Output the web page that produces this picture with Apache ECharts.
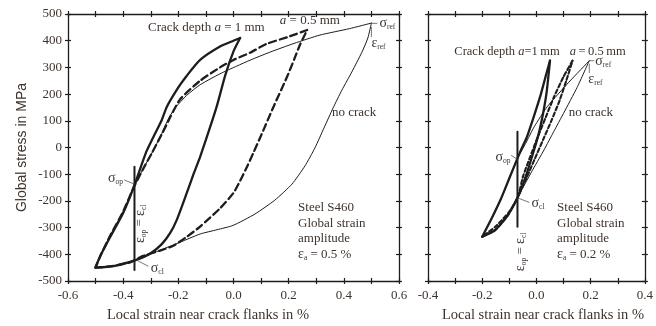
<!DOCTYPE html>
<html>
<head>
<meta charset="utf-8">
<script src="https://cdn.jsdelivr.net/npm/echarts@6/dist/echarts.min.js"></script>
<style>
html, body { margin: 0; padding: 0; background: #fff; }
#chart { width: 656px; height: 326px; }
</style>
</head>
<body>
<div id="chart"></div>
<script>
// ---- Global strain amplitude 0.5 % (left panel): local stress-strain loops ----
const leftNoCrackUp = [
  [-0.5, -450], [-0.44, -444], [-0.375, -430], [-0.327, -408], [-0.266, -385],
  [-0.194, -355], [-0.121, -324], [-0.06, -308], [-0.002, -292], [0.078, -249],
  [0.15, -197], [0.212, -137], [0.259, -69], [0.295, -2], [0.328, 73],
  [0.361, 148], [0.393, 215], [0.429, 283], [0.466, 358], [0.487, 410], [0.5, 466]
];
const leftNoCrackDown = [
  [0.5, 466], [0.42, 445], [0.313, 421], [0.22, 390], [0.132, 357], [0.06, 327],
  [0.012, 305], [-0.049, 276], [-0.121, 235], [-0.17, 195], [-0.21, 150],
  [-0.235, 110], [-0.26, 52], [-0.296, -21], [-0.33, -85], [-0.363, -152],
  [-0.4, -240], [-0.447, -330], [-0.48, -400], [-0.5, -450]
];
const leftHalfMmUp = [
  [-0.5, -450], [-0.44, -444], [-0.375, -430], [-0.327, -406], [-0.266, -386],
  [-0.218, -368], [-0.17, -335], [-0.121, -296], [-0.049, -228], [0, -170],
  [0.024, -125], [0.05, -70], [0.072, -20], [0.1, 45], [0.144, 150],
  [0.193, 262], [0.22, 330], [0.241, 385], [0.267, 440]
];
const leftHalfMmDown = [
  [0.267, 440], [0.2, 415], [0.12, 388], [0.06, 355], [0, 328], [-0.049, 300],
  [-0.121, 250], [-0.194, 180], [-0.23, 112], [-0.26, 50], [-0.296, -21],
  [-0.33, -85], [-0.363, -152], [-0.4, -240], [-0.447, -330], [-0.48, -400],
  [-0.5, -450]
];
const leftOneMmUp = [
  [-0.5, -450], [-0.435, -444], [-0.375, -428], [-0.34, -416], [-0.3, -396],
  [-0.26, -362], [-0.23, -321], [-0.206, -272], [-0.17, -172], [-0.145, -100],
  [-0.121, -35], [-0.09, 60], [-0.061, 153], [-0.03, 270], [0, 360], [0.024, 410]
];
const leftOneMmDown = [
  [0.024, 410], [0, 400], [-0.049, 378], [-0.121, 328], [-0.17, 268], [-0.2, 225],
  [-0.242, 152], [-0.26, 103], [-0.29, 40], [-0.318, -21], [-0.363, -152],
  [-0.4, -245], [-0.447, -335], [-0.48, -400], [-0.5, -447]
];
const leftOpenClose = [[-0.359, -72], [-0.359, -459]];

// ---- Global strain amplitude 0.2 % (right panel) ----
const rightNoCrackUp = [
  [-0.2, -334], [-0.152, -309], [-0.105, -253], [-0.068, -184], [-0.02, -95],
  [0.028, -9], [0.064, 60], [0.1, 128], [0.15, 225], [0.195, 325]
];
const rightNoCrackDown = [
  [0.195, 325], [0.12, 245], [0.04, 153], [-0.008, 78], [-0.04, 15],
  [-0.071, -43], [-0.1, -115], [-0.13, -190], [-0.165, -265], [-0.2, -334]
];
const rightHalfMmUp = [
  [-0.2, -334], [-0.152, -309], [-0.105, -253], [-0.068, -184], [-0.035, -110],
  [-0.005, -40], [0.025, 30], [0.055, 100], [0.085, 175], [0.11, 250], [0.133, 325]
];
const rightHalfMmDown = [
  [0.133, 325], [0.1, 265], [0.065, 190], [0.035, 115], [0.005, 40],
  [-0.025, -40], [-0.05, -110], [-0.068, -184], [-0.1, -240], [-0.15, -295], [-0.2, -334]
];
const rightOneMmUp = [
  [-0.2, -334], [-0.152, -309], [-0.105, -253], [-0.068, -184], [-0.04, -110],
  [-0.015, -30], [0.008, 50], [0.025, 130], [0.038, 210], [0.05, 325]
];
const rightOneMmDown = [
  [0.05, 325], [0.035, 270], [0.015, 195], [-0.01, 115], [-0.035, 40],
  [-0.055, -5], [-0.071, -43], [-0.1, -115], [-0.13, -190], [-0.165, -265], [-0.2, -334]
];
const rightOpenClose = [[-0.07, 59], [-0.07, -297]];

// axis ranges / ticks
const stressRange = [-500, 500];
const stressStep = 100;
const leftStrainRange = [-0.6, 0.6];
const rightStrainRange = [-0.4, 0.4];
const strainStep = 0.1;

// short pointer strokes next to the symbols
const leftLeaders = [
  [[0.5, 465], [0.52, 465]],
  [[0.5, 450], [0.5, 415]],
  [[-0.395, -122], [-0.362, -136]],
  [[-0.346, -425], [-0.31, -444]]
];
const rightLeaders = [
  [[0.195, 325], [0.212, 325]],
  [[0.195, 312], [0.195, 280]],
  [[-0.092, -30], [-0.072, -43]],
  [[-0.066, -190], [-0.028, -205]]
];

const INK = '#1d1d1d';
const TXT = '#3e332c';
const SERIF = '"Liberation Serif", "Times New Roman", serif';
const SANS = '"Liberation Sans", Arial, sans-serif';

const chart = echarts.init(document.getElementById('chart'), null, { renderer: 'canvas' });

function strainLabel(v) {
  const k = Math.round(v * 10);
  return k % 2 === 0 ? (k / 10).toFixed(1) : '';
}

// box frame with ticks crossing every side: one outward and one inward axis per side
function frameAxes(g, kind, range, step, withLabels) {
  const sides = kind === 'x' ? ['bottom', 'top'] : ['left', 'right'];
  const out = [];
  sides.forEach((pos, si) => {
    [false, true].forEach(inside => {
      const main = si === 0 && !inside;
      out.push({
        gridIndex: g, type: 'value', position: pos,
        min: range[0], max: range[1], interval: step,
        axisLine: { show: !inside, onZero: false, lineStyle: { color: INK, width: 1.3 } },
        axisTick: { show: true, inside: inside, length: 3, lineStyle: { color: INK, width: 1.2 } },
        axisLabel: {
          show: main && withLabels,
          formatter: kind === 'x' ? strainLabel : v => String(Math.round(v)),
          fontFamily: SERIF, fontSize: 13, color: TXT, margin: kind === 'x' ? 8 : 6
        },
        splitLine: { show: false }
      });
    });
  });
  return out;
}

const xAxes = frameAxes(0, 'x', leftStrainRange, strainStep, true)
  .concat(frameAxes(1, 'x', rightStrainRange, strainStep, true));
const yAxes = frameAxes(0, 'y', stressRange, stressStep, true)
  .concat(frameAxes(1, 'y', stressRange, stressStep, false));

function curve(data, g, style) {
  return {
    type: 'line', data: data, xAxisIndex: g * 4, yAxisIndex: g * 4,
    symbol: 'none', smooth: 0.2, silent: true,
    lineStyle: Object.assign({ color: INK, cap: 'round', join: 'round' }, style)
  };
}
const thin = { width: 1 };
const dashed = { width: 2.3, type: [7, 4] };
const dashedShort = { width: 2.1, type: [4, 2.5] };
const thick = { width: 2.3 };

const series = [
  curve(leftNoCrackUp, 0, thin), curve(leftNoCrackDown, 0, thin),
  curve(leftHalfMmUp, 0, dashed), curve(leftHalfMmDown, 0, dashed),
  curve(leftOneMmUp, 0, thick), curve(leftOneMmDown, 0, thick),
  Object.assign(curve(leftOpenClose, 0, { width: 2 }), { smooth: false }),
  curve(rightNoCrackUp, 1, thin), curve(rightNoCrackDown, 1, thin),
  curve(rightHalfMmUp, 1, dashedShort), curve(rightHalfMmDown, 1, dashedShort),
  curve(rightOneMmUp, 1, thick), curve(rightOneMmDown, 1, thick),
  Object.assign(curve(rightOpenClose, 1, { width: 2 }), { smooth: false })
];
leftLeaders.forEach(seg => series.push(Object.assign(curve(seg, 0, { width: 0.8, color: '#555' }), { smooth: false })));
rightLeaders.forEach(seg => series.push(Object.assign(curve(seg, 1, { width: 0.8, color: '#555' }), { smooth: false })));

chart.setOption({
  animation: false,
  backgroundColor: '#fff',
  grid: [
    { left: 68, top: 14, width: 331, height: 267 },
    { left: 428, top: 14, width: 222, height: 267 }
  ],
  xAxis: xAxes,
  yAxis: yAxes,
  series: series
});

// ---- text annotations, anchored in data coordinates ----
const RICH = {
  i: { fontFamily: SERIF, fontSize: 13, fontStyle: 'italic', fill: TXT },
  s: { fontFamily: SERIF, fontSize: 14, fill: TXT },
  sub: { fontFamily: SERIF, fontSize: 7.5, fill: TXT, verticalAlign: 'bottom', lineHeight: 8 }
};
const RICH_SMALL = {
  i: { fontFamily: SERIF, fontSize: 12.5, fontStyle: 'italic', fill: TXT }
};
const notes = [
  { g: 0, at: [-0.31, 451], text: 'Crack depth {i|a} = 1 mm' },
  { g: 0, at: [0.168, 474], text: '{i|a} = 0.5 mm' },
  { g: 0, at: [0.5, 465], dx: 8, dy: 0, text: '{s|σ}{sub|ref}' },
  { g: 0, at: [0.5, 465], dx: 0, dy: 20, text: '{s|ε}{sub|ref}' },
  { g: 0, at: [0.357, 129], text: 'no crack' },
  { g: 0, at: [0.234, -197], valign: 'top', text: 'Steel S460\nGlobal strain\namplitude\n{s|ε}{sub|a} = 0.5 %' },
  { g: 0, at: [-0.455, -114], text: '{s|σ}{sub|op}' },
  { g: 0, at: [-0.30, -451], text: '{s|σ}{sub|cl}' },
  { g: 0, at: [-0.339, -286], rot: true, text: '{s|ε}{sub|op} = {s|ε}{sub|cl}' },
  { g: 1, at: [-0.303, 358], small: true, text: 'Crack depth {i|a}=1\u2009mm' },
  { g: 1, at: [0.123, 358], small: true, text: '{i|a}\u2009=\u20090.5\u2009mm' },
  { g: 1, at: [0.195, 325], dx: 6, dy: 1, text: '{s|σ}{sub|ref}' },
  { g: 1, at: [0.195, 325], dx: -1, dy: 19, text: '{s|ε}{sub|ref}' },
  { g: 1, at: [0.119, 129], text: 'no crack' },
  { g: 1, at: [0.076, -197], valign: 'top', text: 'Steel S460\nGlobal strain\namplitude\n{s|ε}{sub|a} = 0.2 %' },
  { g: 1, at: [-0.151, -36], text: '{s|σ}{sub|op}' },
  { g: 1, at: [-0.018, -208], text: '{s|σ}{sub|cl}' },
  { g: 1, at: [-0.058, -391], rot: true, text: '{s|ε}{sub|op} = {s|ε}{sub|cl}' }
];
const firstSeries = [0, 7];
const graphics = notes.map(n => {
  const p = chart.convertToPixel({ seriesIndex: firstSeries[n.g] }, n.at);
  return {
    type: 'text',
    x: p[0] + (n.dx || 0), y: p[1] + (n.dy || 0),
    rotation: n.rot ? Math.PI / 2 : 0,
    silent: true,
    style: {
      text: n.text, rich: n.small ? RICH_SMALL : RICH,
      fontFamily: SERIF, fontSize: n.small ? 12.5 : 13, fill: TXT, lineHeight: 15.5,
      align: n.rot ? 'center' : 'left',
      verticalAlign: n.valign || 'middle'
    }
  };
});
// axis titles
graphics.push({
  type: 'text', x: 22, y: 147.5, rotation: Math.PI / 2, silent: true,
  style: { text: 'Global stress in MPa', fontFamily: SANS, fontSize: 14, fill: TXT, align: 'center', verticalAlign: 'middle' }
});
graphics.push({
  type: 'text', x: 208, y: 315, silent: true,
  style: { text: 'Local strain near crack flanks in %', fontFamily: SERIF, fontSize: 14.5, fill: TXT, align: 'center', verticalAlign: 'middle' }
});
graphics.push({
  type: 'text', x: 543, y: 315, silent: true,
  style: { text: 'Local strain near crack flanks in %', fontFamily: SERIF, fontSize: 14.5, fill: TXT, align: 'center', verticalAlign: 'middle' }
});
chart.setOption({ graphic: graphics });
</script>
</body>
</html>
